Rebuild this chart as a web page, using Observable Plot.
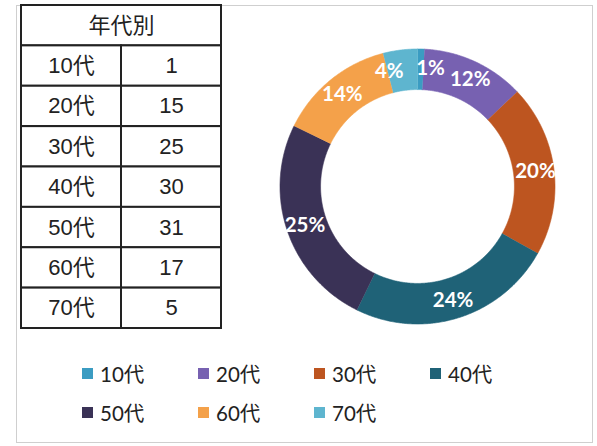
<!DOCTYPE html>
<html><head><meta charset="utf-8">
<script src="https://cdn.jsdelivr.net/npm/d3@7"></script>
<script src="https://cdn.jsdelivr.net/npm/@observablehq/plot@0.6"></script>
<style>
body{margin:0;background:#fff;}
#wrap{position:relative;width:597px;height:446px;overflow:hidden;background:#fff;}
#frame{position:absolute;left:16px;top:5px;width:577px;height:438px;border:1px solid #cfcfcf;box-sizing:border-box;}
#table{position:absolute;left:19px;top:3px;}
#donut{position:absolute;left:267px;top:36px;}
#legend{position:absolute;left:0;top:0;width:597px;height:446px;font-family:"Lato","Noto Sans CJK JP",sans-serif;font-size:20.5px;color:#222;}
.item{position:absolute;display:flex;align-items:center;white-space:nowrap;}
.sw{width:11px;height:11px;margin-right:7px;}
</style>
</head><body>
<div id="wrap">
  <div id="frame"></div>
  <div id="table"></div>
  <div id="donut"></div>
  <div id="legend"></div>
</div>
<script>
const header = "年代別";
const ages = ["10代","20代","30代","40代","50代","60代","70代"];
const counts = [1, 15, 25, 30, 31, 17, 5];
const colors = ["#3b9cc2","#7761b1","#bd5520","#1f6277","#3a3256","#f4a14a","#5eb5cf"];

// ---------- table ----------
const cells = [{x1:0,x2:2,y1:0,y2:1,text:header}];
ages.forEach((a,i)=>{
  cells.push({x1:0,x2:1,y1:i+1,y2:i+2,text:a});
  cells.push({x1:1,x2:2,y1:i+1,y2:i+2,text:String(counts[i])});
});
const tablePlot = Plot.plot({
  width: 204, height: 328,
  marginLeft: 2, marginRight: 2, marginTop: 2, marginBottom: 3,
  x: {domain:[0,2], axis:null},
  y: {domain:[ages.length+1,0], axis:null},
  marks: [
    Plot.rect(cells, {x1:"x1", x2:"x2", y1:"y1", y2:"y2", fill:"white", stroke:"#222", strokeWidth:2}),
    Plot.text(cells, {x:d=>(d.x1+d.x2)/2, y:d=>(d.y1+d.y2)/2, text:"text",
      fontSize:22, fill:"#222", fontFamily:'"Liberation Sans","Noto Sans CJK JP",sans-serif'})
  ]
});
document.getElementById("table").append(tablePlot);

// ---------- donut ----------
const total = d3.sum(counts);
const Rpx = 137.5, size = 300;
const R = (size/2)/Rpx;
const inner = 0.705;
let cum = 0;
const slices = ages.map((a,i)=>{
  const a0 = cum/total*360; cum += counts[i]; const a1 = cum/total*360;
  return {key:a, a0, a1, value:counts[i]};
});
const pts = [];
const rad = Math.PI/180;
slices.forEach(s=>{
  const n = Math.max(2, Math.ceil((s.a1-s.a0)/0.5));
  for(let k=0;k<=n;k++){const t=(s.a0+(s.a1-s.a0)*k/n)*rad; pts.push({key:s.key,x:Math.sin(t),y:Math.cos(t)});}
  for(let k=n;k>=0;k--){const t=(s.a0+(s.a1-s.a0)*k/n)*rad; pts.push({key:s.key,x:inner*Math.sin(t),y:inner*Math.cos(t)});}
});
// label angles with minimal separation
const labels = slices.map(s=>({key:s.key, ang:(s.a0+s.a1)/2, text:Math.round(s.value/total*100)+"%"}));
labels.forEach(l=>{ if(l.ang>180) l.ang-=360; });
const sorted = labels.slice().sort((a,b)=>a.ang-b.ang);
const minSep = 20;
for(let it=0; it<20; it++){
  for(let i=0;i<sorted.length-1;i++){
    const d = sorted[i+1].ang - sorted[i].ang;
    if(d<minSep){const p=(minSep-d)/2; sorted[i].ang-=p; sorted[i+1].ang+=p;}
  }
}
const lr = 0.865;
labels.forEach(l=>{l.x = lr*Math.sin(l.ang*rad); l.y = lr*Math.cos(l.ang*rad);});

const donutPlot = Plot.plot({
  width: size, height: size,
  margin: 0,
  x: {domain:[-R,R], axis:null},
  y: {domain:[-R,R], axis:null},
  color: {domain: ages, range: colors},
  marks: [
    Plot.line(pts, {x:"x", y:"y", z:"key", fill:"key", stroke:"key", strokeWidth:0.6}),
    Plot.text(labels, {x:"x", y:"y", text:"text", fill:"white", fontWeight:"bold", fontSize:20.5,
      fontFamily:'"Lato","Open Sans",sans-serif'})
  ]
});
document.getElementById("donut").append(donutPlot);

// ---------- legend ----------
const leg = document.getElementById("legend");
ages.forEach((a,i)=>{
  const col = i%4, row = Math.floor(i/4);
  const it = document.createElement("div");
  it.className = "item";
  it.style.left = (82 + col*116) + "px";
  it.style.top = (360 + row*39) + "px";
  it.style.height = "26px";
  const sw = document.createElement("span"); sw.className="sw"; sw.style.background = colors[i];
  const tx = document.createElement("span"); tx.textContent = a;
  it.append(sw, tx); leg.append(it);
});
</script>
</body></html>
